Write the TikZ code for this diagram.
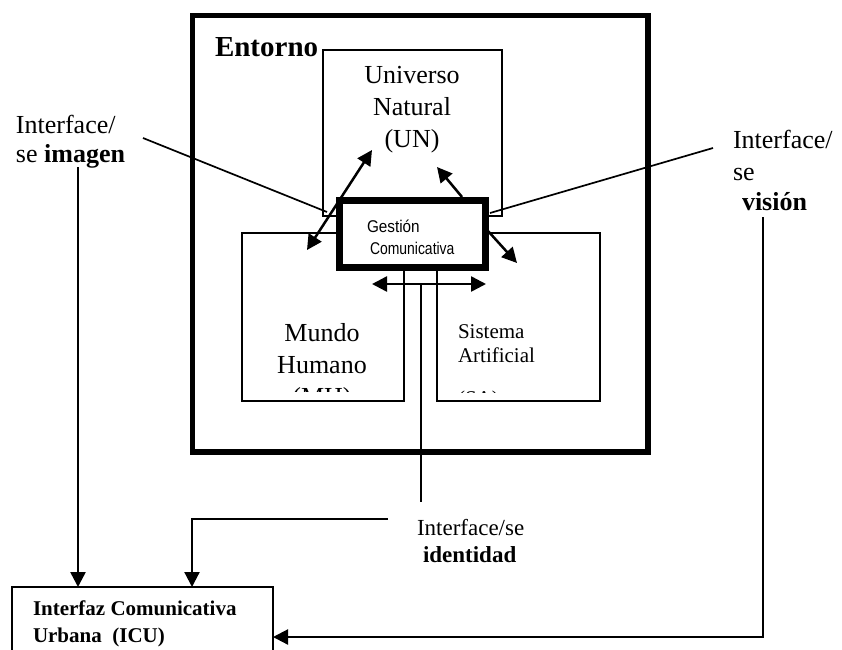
\documentclass[tikz,border=0pt]{standalone}
\usepackage{fontspec}
\usepackage{graphicx}
\setmainfont{Liberation Serif}
\newfontfamily\gfont{Liberation Sans}
\usetikzlibrary{arrows.meta}
\begin{document}
\begin{tikzpicture}[x=1pt,y=-1pt,
  thinbox/.style={draw, line width=1.5pt, inner sep=0pt, outer sep=0pt},
  thk/.style={line width=2.5pt},
  thn/.style={line width=1.7pt},
  tipend/.style={-{Triangle[length=15pt,width=15pt]}},
  tipboth/.style={{Triangle[length=15pt,width=15pt]}-{Triangle[length=15pt,width=15pt]}},
  lbl/.style={inner sep=0pt, outer sep=0pt, anchor=base west},
  cl/.style={inner sep=0pt, outer sep=0pt, anchor=base},
  big/.style={font=\fontsize{26}{29}\selectfont},
  mid/.style={font=\fontsize{23}{26}\selectfont},
  sml/.style={font=\fontsize{21}{24}\selectfont},
  gst/.style={font=\gfont\fontsize{17}{20}\selectfont}]
\useasboundingbox (0,0) rectangle (842,649);
\fill[white] (0,0) rectangle (842,649);

% boxes
\node[draw, line width=5.5pt, minimum width=455.5pt, minimum height=436.5pt, inner sep=0pt] (env) at (420.25,233.75) {};
\node[thinbox, minimum width=179pt, minimum height=166pt] (un) at (412.5,133) {};
\node[thinbox, minimum width=162pt, minimum height=168pt] (mh) at (323,317) {};
\node[thinbox, minimum width=163pt, minimum height=168pt] (sa) at (518.5,317) {};
\node[draw, fill=white, line width=7pt, minimum width=146pt, minimum height=67pt, inner sep=0pt] (gc) at (412.5,234) {};
\node[thinbox, minimum width=261pt, minimum height=93pt] (icu) at (142.5,633.5) {};

% texts
\node[lbl, font=\bfseries\fontsize{29}{32}\selectfont] (ent) at (215,56) {Entorno};
\node[cl, big] (un1) at (412,83) {Universo};
\node[cl, big] (un2) at (412,115) {Natural};
\node[cl, big] (un3) at (412,147) {(UN)};

\begin{scope}
\clip (243,234) rectangle (403,391);
\node[cl, big] (mh1) at (322,341) {Mundo};
\node[cl, big] (mh2) at (322,373) {Humano};
\node[cl, big] (mh3) at (322,405) {(MH)};
\end{scope}
\begin{scope}
\clip (438,234) rectangle (599,392);
\node[lbl, sml] (sa1) at (458,338) {Sistema};
\node[lbl, sml] (sa2) at (458,362) {Artificial};
\node[lbl, sml] (sa3) at (458,405) {(SA)};
\end{scope}

\node[lbl, gst] (gc1) at (367,232) {\scalebox{0.9}[1]{Gestión}};
\node[lbl, gst] (gc2) at (370,254) {\scalebox{0.82}[1]{Comunicativa}};

\node[lbl, big] (li1) at (16,133) {Interface/};
\node[lbl, big] (li2) at (16,162) {se \textbf{imagen}};
\node[lbl, big] (ri1) at (733,148) {Interface/};
\node[lbl, big] (ri2) at (733,180) {se};
\node[lbl, big, font=\bfseries\fontsize{26}{29}\selectfont] (ri3) at (742,210) {visión};
\node[lbl, mid] (bi1) at (417,535) {Interface/se};
\node[lbl, mid, font=\bfseries\fontsize{23}{26}\selectfont] (bi2) at (423,562) {identidad};
\node[lbl, font=\bfseries\fontsize{21}{27}\selectfont] (icu1) at (33,615) {Interfaz Comunicativa};
\node[lbl, font=\bfseries\fontsize{21}{27}\selectfont] (icu2) at (33,642) {Urbana\ \ (ICU)};

% coordinates
\coordinate (a1s) at (307,250);
\coordinate (a1e) at (372,150);
\coordinate (a2s) at (462,197);
\coordinate (a2e) at (437,167);
\coordinate (a3s) at (488,231);
\coordinate (a3e) at (517,263);
\coordinate (a4s) at (372,284);
\coordinate (a4e) at (486,284);
\coordinate (vt) at (421,285);
\coordinate (vb) at (421,502);
\coordinate (lis) at (143,138);
\coordinate (lie) at (327,212);
\coordinate (ris) at (713,148);
\coordinate (rie) at (490,213);
\coordinate (imgb) at (78,167);
\coordinate (icuA) at (78,587);
\coordinate (idR) at (388,519);
\coordinate (idL) at (192,519);
\coordinate (icuB) at (192,587);
\coordinate (visT) at (763,217);
\coordinate (visB) at (763,637);
\coordinate (icuC) at (273,637);

% connectors
\draw[thk, tipboth] (a1s) -- (a1e);
\draw[thk, tipend] (a2s) -- (a2e);
\draw[thk, tipend] (a3s) -- (a3e);
\draw[thk, tipboth] (a4s) -- (a4e);
\draw[thn] (vt) -- (vb);
\draw[thn] (lis) -- (lie);
\draw[thn] (ris) -- (rie);
\draw[thk, tipend] (imgb) -- (icuA);
\draw[line width=2.2pt, tipend] (idR) -- (idL) -- (icuB);
\draw[line width=2.2pt, tipend] (visT) -- (visB) -- (icuC);
\end{tikzpicture}
\end{document}
